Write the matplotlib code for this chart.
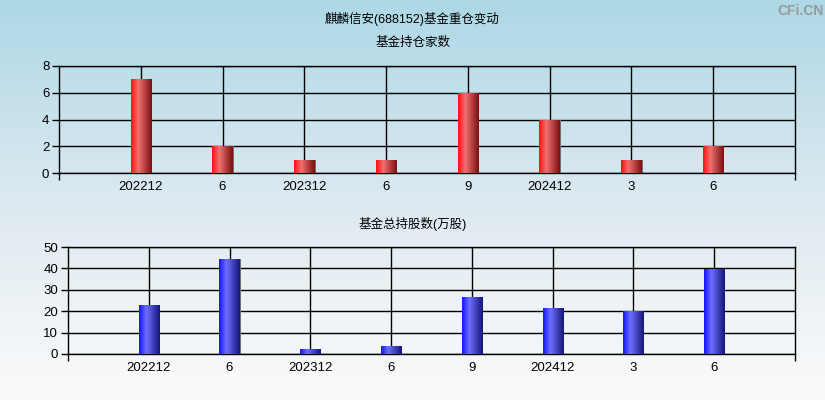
import matplotlib.pyplot as plt
import numpy as np
from matplotlib.colors import LinearSegmentedColormap

# 数据
periods = ['202212', '6', '202312', '6', '9', '202412', '3', '6']
fund_count = [7, 2, 1, 1, 6, 4, 1, 2]
fund_shares = [23, 44.5, 2.5, 3.9, 26.8, 21.6, 20.1, 39.7]

plt.rcParams['font.family'] = ['Liberation Sans', 'Noto Sans CJK SC']

fig = plt.figure(figsize=(8.25, 4), dpi=100)

# 背景渐变
bg = fig.add_axes([0, 0, 1, 1], zorder=-10)
grad = np.linspace(0, 1, 256).reshape(-1, 1)
bg_cmap = LinearSegmentedColormap.from_list('bg', ['#add8e6', '#dde9f0', '#fbfbfb'])
bg.imshow(grad, aspect='auto', cmap=bg_cmap, extent=[0, 1, 0, 1])
bg.axis('off')

red_cmap = LinearSegmentedColormap.from_list(
    'r', [(0, '#ff1010'), (0.35, '#f07070'), (1, '#7a1010')])
blue_cmap = LinearSegmentedColormap.from_list(
    'b', [(0, '#1515ff'), (0.35, '#6e6eff'), (1, '#15157a')])


def draw_panel(rect, values, ylim, yticks, cmap):
    ax = fig.add_axes(rect)
    ax.set_facecolor('none')
    x = np.arange(len(values))
    # 阴影
    ax.bar(x + 0.012, values, width=0.25, color='#707070', zorder=2)
    bars = ax.bar(x, values, width=0.25, color='none', zorder=3)
    row = np.linspace(0, 1, 64).reshape(1, -1)
    for b in bars:
        im = ax.imshow(row, cmap=cmap, aspect='auto', zorder=3,
                       extent=[b.get_x(), b.get_x() + b.get_width(), 0, b.get_height()])
        im.set_clip_path(b)
    ax.set_xlim(-1, len(values))
    ax.set_ylim(*ylim)
    ax.set_yticks(yticks)
    ax.set_xticks(x)
    ax.set_xticklabels(periods, fontsize=9.5)
    ax.set_xticks([-1, len(values)], minor=True)
    ax.tick_params(axis='x', which='major', length=0, pad=6)
    ax.tick_params(axis='x', which='minor', length=5, width=1)
    ax.tick_params(axis='y', length=5, width=1, labelsize=9.5, pad=2)
    ax.grid(True, color='black', linewidth=1, zorder=1)
    ax.set_axisbelow(True)
    for s in ax.spines.values():
        s.set_linewidth(1)
    return ax


draw_panel([0.0715, 0.5675, 0.8921, 0.2675], fund_count, (0, 8), [0, 2, 4, 6, 8], red_cmap)
draw_panel([0.0824, 0.115, 0.8812, 0.2675], fund_shares, (0, 50), [0, 10, 20, 30, 40, 50],
           blue_cmap)

fig.text(0.5, 0.953, '麒麟信安(688152)基金重仓变动', ha='center', va='center', fontsize=9)
fig.text(0.5, 0.8925, '基金持仓家数', ha='center', va='center', fontsize=9)
fig.text(0.5, 0.44, '基金总持股数(万股)', ha='center', va='center', fontsize=9)
fig.text(0.97, 0.973, 'CFi.CN', ha='center', va='center', fontsize=10,
         color='#999999', fontweight='bold')

plt.savefig('out.png', dpi=100)
